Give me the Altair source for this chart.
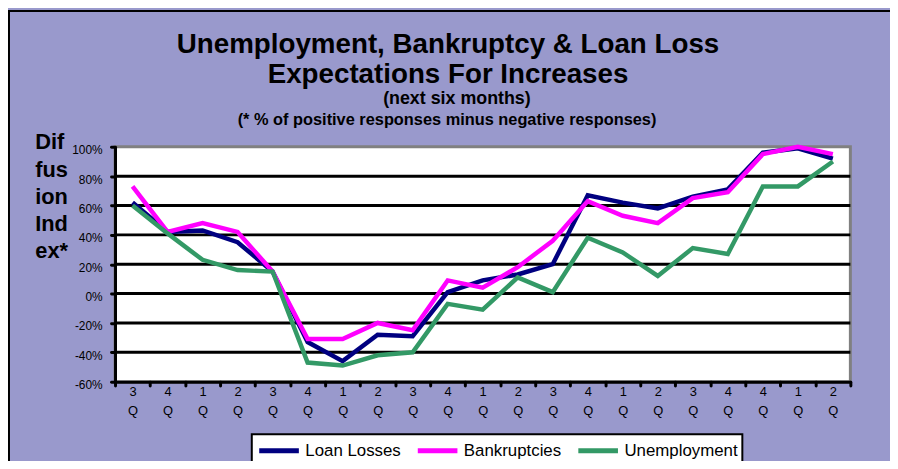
import altair as alt
import pandas as pd

quarters = ["3", "4", "1", "2", "3", "4", "1", "2", "3", "4", "1",
            "2", "3", "4", "1", "2", "3", "4", "4", "1", "2"]
loan_losses = [62, 42, 43, 35, 15, -33, -46, -28, -29, 1, 9,
               13, 20, 67, 62, 58, 66, 71, 96, 99, 92]
bankruptcies = [73, 42, 48, 42, 15, -31, -31, -20, -25, 9, 4,
                18, 36, 63, 53, 48, 65, 69, 95, 100, 95]
unemployment = [60, 41, 23, 16, 15, -47, -49, -42, -40, -7, -11,
                11, 1, 38, 28, 12, 31, 27, 73, 73, 90]
series_names = ["Loan Losses", "Bankruptcies", "Unemployment"]
series_colors = ["#000080", "#FF00FF", "#339966"]
y_ticks = [-60, -40, -20, 0, 20, 40, 60, 80, 100]
grid_values = [-40, -20, 0, 20, 40, 60, 80]

title_lines = ["Unemployment, Bankruptcy & Loan Loss", "Expectations For Increases"]
sub1 = "(next six months)"
sub2 = "(* % of positive responses minus negative responses)"
y_title = ["Dif", "fus", "ion", "Ind", "ex*"]

rows = []
for i in range(len(quarters)):
    for name, vals in zip(series_names, [loan_losses, bankruptcies, unemployment]):
        rows.append({"idx": i, "series": name, "value": vals[i]})
df = pd.DataFrame(rows)

W, H = 742, 237
FONT = "Liberation Sans"
label_expr = "[" + ",".join(f"['{q}','Q']" for q in quarters) + "][datum.value]"

x = alt.X(
    "idx:O",
    bandPosition=0.5,
    scale=alt.Scale(type="band", paddingInner=0, paddingOuter=0),
    axis=alt.Axis(
        title=None, labelExpr=label_expr, labelAngle=0, tickBand="extent",
        domainColor="black", domainWidth=3, tickColor="black", tickWidth=3,
        tickSize=4, tickCap="round", labelFont=FONT, labelFontSize=13,
        labelLineHeight=19, labelPadding=0, labelOverlap=False,
        labelColor="black", labelBaseline="top",
    ),
)
y_axis = alt.Axis(
    values=y_ticks, labelExpr="datum.value + '%'", grid=False,
    domainColor="black", domainWidth=3, tickColor="black", tickWidth=3,
    tickSize=4, tickCap="round", labelFont=FONT, labelFontSize=12,
    labelColor="black", labelPadding=9, labelOffset=3,
    title=y_title, titleAngle=0, titleX=-81, titleY=-15,
    titleAlign="left", titleBaseline="top", titleFont=FONT,
    titleFontSize=22, titleFontWeight="bold", titleLineHeight=27.5,
    titleColor="black",
)
y_scale = alt.Scale(domain=[-60, 100], nice=False, zero=False)

lines = alt.Chart(df).mark_line(strokeWidth=4.5).encode(
    x=x,
    y=alt.Y("value:Q", scale=y_scale, axis=y_axis),
    color=alt.Color(
        "series:N",
        scale=alt.Scale(domain=series_names, range=series_colors),
        legend=alt.Legend(
            title=None, orient="none", legendX=138, legendY=290,
            direction="horizontal", symbolType="M-2,0H2", symbolSize=400,
            symbolStrokeWidth=5, symbolOffset=11, labelFont=FONT,
            labelFontSize=17, labelColor="black", fillColor="white",
            strokeColor="black", padding=4, columnPadding=6,
            labelOffset=14,
        ),
    ),
    order=alt.Order("idx:Q"),
)

grid = alt.Chart(pd.DataFrame({"g": grid_values})).mark_rule(
    color="black", strokeWidth=3
).encode(y=alt.Y("g:Q", scale=y_scale, axis=y_axis))

def text_layer(txt, xv, yv, size):
    return alt.Chart(pd.DataFrame({"t": [txt]})).mark_text(
        font=FONT, fontWeight="bold", fontSize=size, color="black",
        align="center", baseline="alphabetic",
    ).encode(text="t:N", x=alt.value(xv), y=alt.value(yv))

t1 = text_layer(title_lines[0], 336, -95, 28)
t2 = text_layer(title_lines[1], 336, -64, 28)
t3 = text_layer(sub1, 345, -43, 18)
t4 = text_layer(sub2, 335, -22, 16.5)

border_df = pd.DataFrame({"b": [0]})
top_border = alt.Chart(border_df).mark_rule(color="black", strokeWidth=2).encode(
    x=alt.value(-108), x2=alt.value(800), y=alt.value(-137)
)
left_border = alt.Chart(border_df).mark_rule(color="black", strokeWidth=2).encode(
    x=alt.value(-107), y=alt.value(-138), y2=alt.value(330)
)

chart = alt.layer(grid, lines, t1, t2, t3, t4, top_border, left_border).properties(
    width=W, height=H,
    background="#9999CC",
    autosize=alt.AutoSizeParams(type="none"),
    padding={"left": 108, "top": 138, "right": 40, "bottom": 78},
).configure_view(
    fill="white", stroke="#808080", strokeWidth=3
).configure_legend(strokeWidth=2)

chart.save("out.html", embed_options={"renderer": "svg", "actions": False})
